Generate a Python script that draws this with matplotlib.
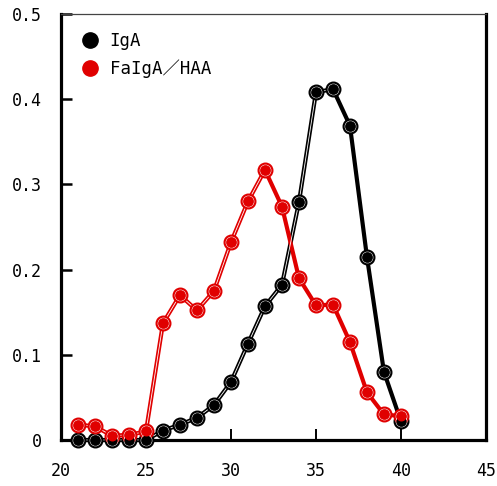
import numpy as np
import matplotlib
matplotlib.use("Agg")
from matplotlib import pyplot as plt
from matplotlib.lines import Line2D

plt.rcParams['font.family'] = ['DejaVu Sans Mono', 'Noto Sans CJK JP']

fraction = [21, 22, 23, 24, 25, 26, 27, 28, 29, 30,
            31, 32, 33, 34, 35, 36, 37, 38, 39, 40]
iga = [0.0, 0.0, 0.0, 0.0, 0.0, 0.011, 0.018, 0.026, 0.041, 0.068,
       0.113, 0.157, 0.182, 0.279, 0.408, 0.412, 0.369, 0.215, 0.080, 0.022]
faiga_haa = [0.018, 0.016, 0.005, 0.006, 0.010, 0.137, 0.170, 0.152, 0.175, 0.232,
             0.280, 0.317, 0.274, 0.190, 0.158, 0.159, 0.115, 0.056, 0.030, 0.028]
labels = ['IgA', 'FaIgA／HAA']
colors = ['black', '#e00000']

fig = plt.figure(figsize=(4.97, 4.86), dpi=100)
ax = fig.add_axes([0.1227, 0.0947, 0.855, 0.8765])


def draw_series(x, y, c):
    x = np.array(x)
    y = np.array(y)
    ax.plot(x, y, color=c, lw=3.0, zorder=3, clip_on=False)
    # white stripe on the rising part, as in the original
    k = int(np.argmax(y)) + 1
    ax.plot(x[:k], y[:k], color='white', lw=0.6, zorder=4, clip_on=False)
    ax.plot(x, y, ls='none', marker='o', ms=10.5, mfc=c, mec=c, zorder=5, clip_on=False)
    ax.plot(x, y, ls='none', marker='o', ms=8, mfc='none', mec='white', mew=0.5,
            alpha=0.8, zorder=6, clip_on=False)
    ax.plot(x, y, ls='none', marker='o', ms=7.2, mfc=c, mec='none', zorder=7, clip_on=False)


draw_series(fraction, iga, colors[0])
draw_series(fraction, faiga_haa, colors[1])

ax.set_xlim(20, 45)
ax.set_ylim(0, 0.5)
ax.set_xticks([20, 25, 30, 35, 40, 45])
ax.set_yticks([0, 0.1, 0.2, 0.3, 0.4, 0.5])
ax.set_yticklabels(['0', '0.1', '0.2', '0.3', '0.4', '0.5'])

for s in ['left', 'bottom', 'right']:
    ax.spines[s].set_linewidth(2.3)
ax.spines['top'].set_linewidth(0.9)
ax.spines['top'].set_color('#444444')

ax.tick_params(axis='both', direction='in', labelsize=12)
ax.tick_params(axis='y', length=8, width=1.8, pad=14)
ax.tick_params(axis='x', length=8, width=1.4, pad=16)

handles = [Line2D([], [], ls='none', marker='o', ms=11, mfc=c, mec=c) for c in colors]
ax.legend(handles, labels, loc='upper left', frameon=False, fontsize=12.5,
          handlelength=1.0, handletextpad=0.6, labelspacing=0.5,
          borderpad=0, borderaxespad=0, bbox_to_anchor=(0.049, 0.957))

fig.savefig('out.png', dpi=100)
